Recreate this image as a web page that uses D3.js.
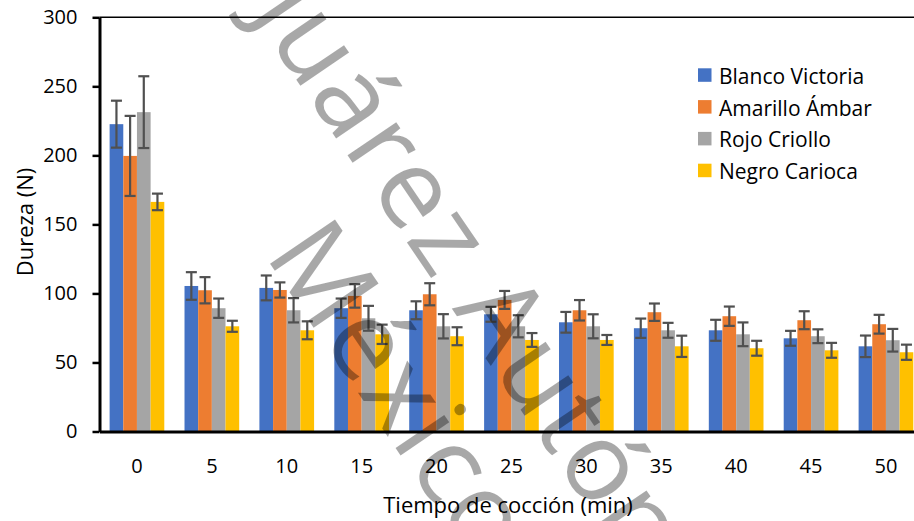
<!DOCTYPE html>
<html>
<head>
<meta charset="utf-8">
<script src="https://cdn.jsdelivr.net/npm/d3@7"></script>
<style>
    body { margin: 0; background: #fff; }
    svg { display: block; overflow: hidden; }
    text { font-family: "Open Sans", "Noto Sans", sans-serif; fill: #000; }
</style>
</head>
<body>
<div id="chart"></div>
<script>
/*jslint browser: true*/

// chart values
var categories = ['0', '5', '10', '15', '20', '25', '30', '35', '40', '45', '50'];
var seriesNames = ['Blanco Victoria', 'Amarillo Ámbar', 'Rojo Criollo', 'Negro Carioca'];
var seriesColors = ['#4472C4', '#ED7D31', '#A5A5A5', '#FFC000'];

var blancoVictoria = [222.6, 105.4, 104.0, 89.3, 87.8, 84.9, 79.1, 74.8, 73.3, 67.5, 61.7];
var blancoVictoriaErr = [17, 10, 9, 7, 6.5, 5.4, 7.5, 7, 7.6, 5.4, 7.8];
var amarilloAmbar = [199.6, 102.3, 102.5, 98.2, 99.4, 95.3, 87.8, 86.4, 83.5, 80.6, 77.7];
var amarilloAmbarErr = [29, 9.5, 5.5, 8.5, 8, 6.5, 7.4, 6.3, 7, 6.5, 6.8];
var rojoCriollo = [231.3, 89.3, 87.8, 82.0, 76.2, 76.2, 76.2, 73.3, 70.4, 69.0, 66.1];
var rojoCriolloErr = [26, 7, 8.8, 9, 8.8, 8, 8.7, 5.4, 8.6, 5, 8.2];
var negroCarioca = [166.3, 76.2, 73.3, 70.4, 69.0, 66.3, 66.3, 61.7, 60.3, 58.8, 57.4];
var negroCariocaErr = [6, 4, 6.5, 7, 6.5, 5, 3.6, 7.7, 5.4, 5.4, 5.5];

var yTicks = [0, 50, 100, 150, 200, 250, 300];
var xTitle = 'Tiempo de cocción (min)';
var yTitle = 'Dureza (N)';
var watermarkLines = ['Universidad Juárez Autónoma de Tabasco', 'México'];

(function (d3) {
    var width = 914,
        height = 521,
        plot = { left: 99.5, top: 17.3, bottom: 431.5, step: 74.9 },
        values = [blancoVictoria, amarilloAmbar, rojoCriollo, negroCarioca],
        errors = [blancoVictoriaErr, amarilloAmbarErr, rojoCriolloErr, negroCariocaErr];

    var svg = d3.select('#chart').append('svg')
        .attr('width', width)
        .attr('height', height);

    // scales: the plot area runs past the right edge of the picture
    var x = d3.scaleBand()
        .domain(categories)
        .range([plot.left, plot.left + plot.step * categories.length])
        .paddingInner(0.27)
        .paddingOuter(0.135);

    var xs = d3.scaleBand()
        .domain(d3.range(seriesNames.length))
        .range([0, x.bandwidth()]);

    var y = d3.scaleLinear()
        .domain([0, 300])
        .range([plot.bottom, plot.top]);

    // flatten into one record per bar
    var bars = [];
    categories.forEach(function (c, i) {
        seriesNames.forEach(function (s, j) {
            bars.push({ cat: c, s: j, v: values[j][i], e: errors[j][i] });
        });
    });

    // top border of the plot area
    svg.append('line')
        .attr('x1', plot.left)
        .attr('x2', width)
        .attr('y1', y(300))
        .attr('y2', y(300))
        .attr('stroke', '#000')
        .attr('stroke-width', 1.4);

    // bars
    svg.append('g').selectAll('rect')
        .data(bars)
        .enter().append('rect')
        .attr('x', function (d) { return x(d.cat) + xs(d.s); })
        .attr('width', xs.bandwidth())
        .attr('y', function (d) { return y(d.v); })
        .attr('height', function (d) { return y(0) - y(d.v); })
        .attr('fill', function (d) { return seriesColors[d.s]; });

    // error bars
    var err = svg.append('g')
        .attr('stroke', '#505050')
        .attr('stroke-width', 2.2)
        .selectAll('g')
        .data(bars)
        .enter().append('g')
        .attr('transform', function (d) {
            return 'translate(' + (x(d.cat) + xs(d.s) + xs.bandwidth() / 2) + ',0)';
        });
    err.append('line')
        .attr('y1', function (d) { return y(d.v + d.e); })
        .attr('y2', function (d) { return y(d.v - d.e); });
    err.append('line')
        .attr('x1', -5.5).attr('x2', 5.5)
        .attr('y1', function (d) { return y(d.v + d.e); })
        .attr('y2', function (d) { return y(d.v + d.e); });
    err.append('line')
        .attr('x1', -5.5).attr('x2', 5.5)
        .attr('y1', function (d) { return y(d.v - d.e); })
        .attr('y2', function (d) { return y(d.v - d.e); });

    // y axis
    var yAxis = svg.append('g')
        .attr('transform', 'translate(' + plot.left + ',0)')
        .call(d3.axisLeft(y).tickValues(yTicks).tickSize(7).tickSizeOuter(0).tickPadding(15));
    yAxis.select('.domain').attr('stroke', '#000').attr('stroke-width', 3);
    yAxis.selectAll('.tick line').attr('stroke', '#000').attr('stroke-width', 2.5);
    yAxis.selectAll('.tick text')
        .attr('font-size', 20)
        .attr('font-family', '"Open Sans", sans-serif')
        .attr('fill', '#000');

    // x axis
    var xAxis = svg.append('g')
        .attr('transform', 'translate(0,' + plot.bottom + ')')
        .call(d3.axisBottom(x).tickSize(0).tickPadding(27));
    xAxis.select('.domain').attr('stroke', '#000').attr('stroke-width', 3);
    xAxis.selectAll('.tick text')
        .attr('font-size', 20)
        .attr('font-family', '"Open Sans", sans-serif')
        .attr('fill', '#000');

    // axis titles
    svg.append('text')
        .attr('x', 508)
        .attr('y', 513)
        .attr('text-anchor', 'middle')
        .attr('font-size', 22)
        .text(xTitle);

    svg.append('text')
        .attr('transform', 'translate(33,222) rotate(-90)')
        .attr('text-anchor', 'middle')
        .attr('font-size', 22)
        .text(yTitle);

    // legend
    var legend = svg.append('g').selectAll('g')
        .data(seriesNames)
        .enter().append('g')
        .attr('transform', function (d, i) { return 'translate(698,' + (68.3 + i * 31.8) + ')'; });
    legend.append('rect')
        .attr('width', 13.5)
        .attr('height', 13.5)
        .attr('fill', function (d, i) { return seriesColors[i]; });
    legend.append('text')
        .attr('x', 21)
        .attr('y', 15.5)
        .attr('font-size', 21)
        .text(function (d) { return d; });

    // watermark on top, placed by the centre of a chosen word/letter
    var fs = 110;
    function watermark(str, sub, px, py) {
        var g = svg.append('g')
            .attr('transform', 'translate(' + px + ',' + py + ') rotate(55.8)');
        var t = g.append('text')
            .attr('font-family', '"Liberation Serif", "DejaVu Serif", serif')
            .attr('font-size', fs)
            .attr('letter-spacing', 2)
            .attr('fill', '#000')
            .attr('fill-opacity', 0.34)
            .text(str);
        var node = t.node(),
            i = str.indexOf(sub),
            off = node.getSubStringLength(0, i) + node.getSubStringLength(i, sub.length) / 2;
        t.attr('x', -off).attr('y', 0.25 * fs);
    }
    watermark(watermarkLines[0], 'Juárez', 365, 132);
    watermark(watermarkLines[1], 'c', 445, 472);
}(window.d3));
</script>
</body>
</html>
